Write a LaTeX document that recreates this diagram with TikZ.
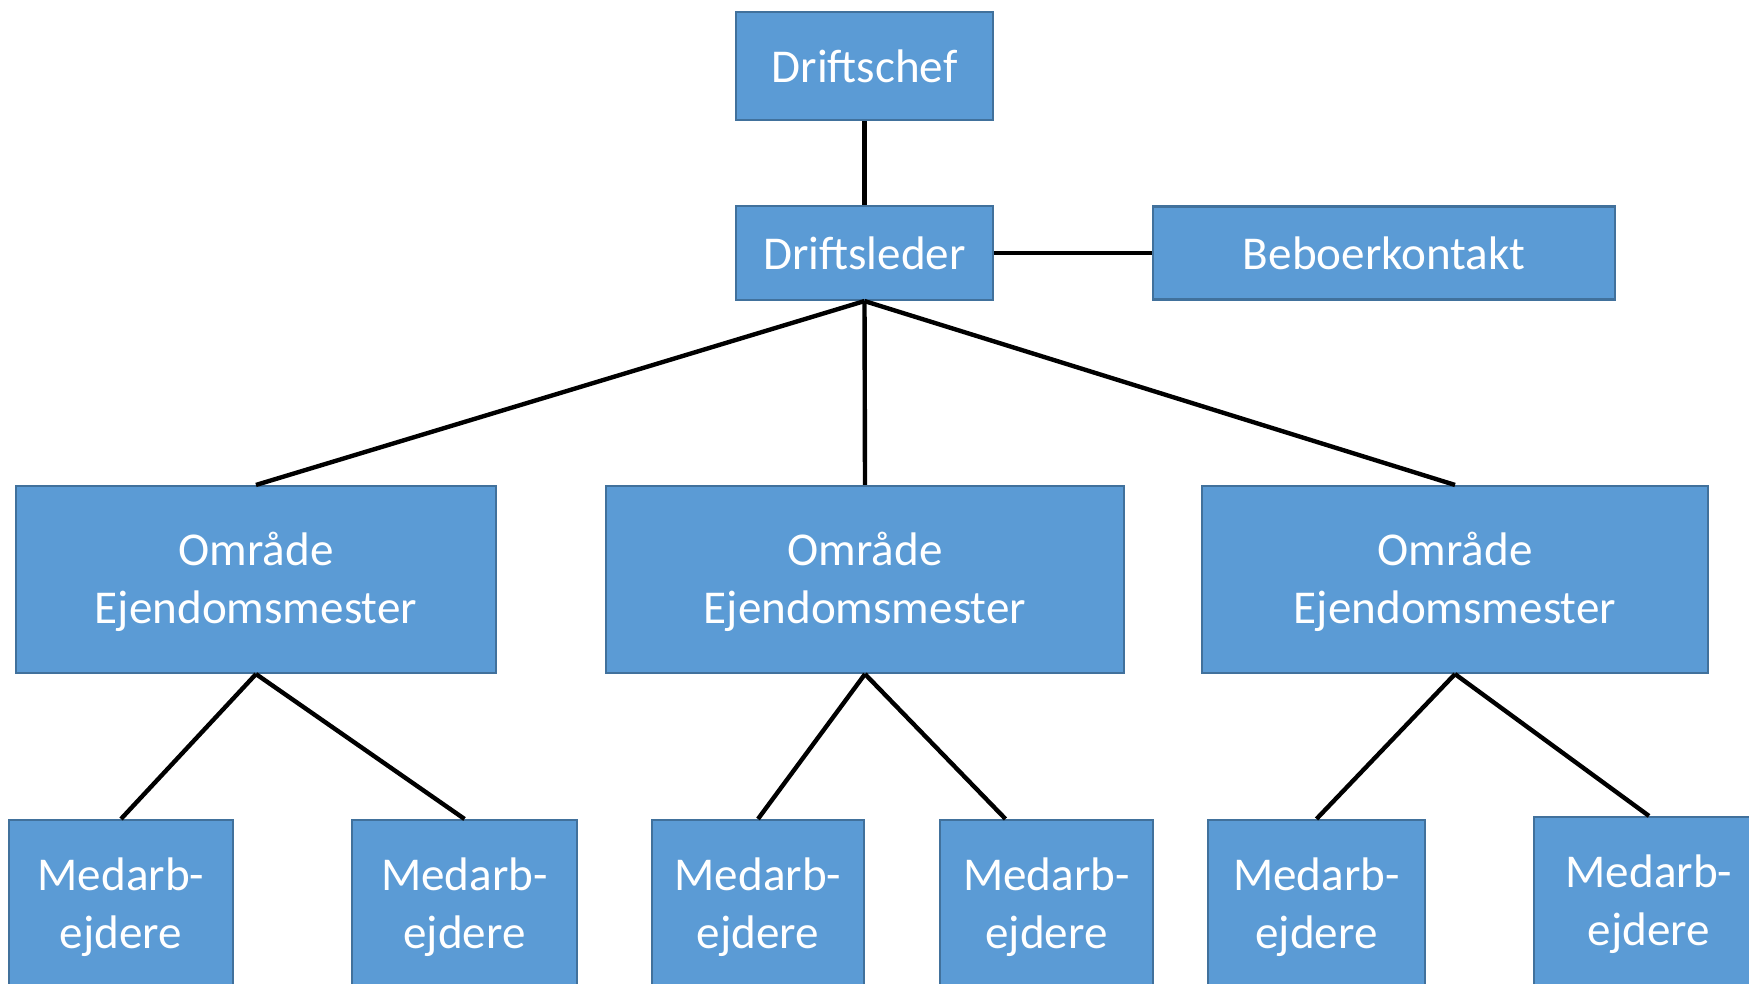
\documentclass[tikz,border=0pt]{standalone}
\usepackage{fontspec}
\setmainfont{Carlito}
\definecolor{boxfill}{RGB}{91,155,213}
\definecolor{boxline}{RGB}{65,113,156}
\usetikzlibrary{positioning}

\begin{document}
\begin{tikzpicture}[
    every node/.style={font=\fontsize{13.4}{16.4}\selectfont, text=white, align=center},
    unit/.style={draw=boxline, line width=0.6pt, fill=boxfill, inner sep=0pt},
    link/.style={black, line width=1.25pt}]
  \useasboundingbox (0,0) rectangle (17.49,9.83);
  % top of the tree
  \node[unit, minimum width=2.57cm, minimum height=1.08cm] (chef) at (8.645,9.17) {Driftschef};
  \node[unit, minimum width=2.57cm, minimum height=0.94cm] (leder) at (8.645,7.30) {Driftsleder};
  \node[unit, minimum width=4.62cm, minimum height=0.93cm] (beboer) at (13.84,7.30) {Beboerkontakt};
  % area caretakers
  \node[unit, minimum width=4.80cm, minimum height=1.87cm] (omr1) at (2.56,4.035) {\rule{0pt}{11pt}Område\\Ejendomsmester};
  \node[unit, minimum width=5.18cm, minimum height=1.87cm] (omr2) at (8.65,4.035) {\rule{0pt}{11pt}Område\\Ejendomsmester};
  \node[unit, minimum width=5.06cm, minimum height=1.87cm] (omr3) at (14.55,4.035) {\rule{0pt}{11pt}Område\\Ejendomsmester};
  % staff
  \node[unit, minimum width=2.24cm, minimum height=1.68cm] (med1) at (1.21,0.79) {\rule{0pt}{11pt}Medarb-\\ejdere};
  \node[unit, minimum width=2.25cm, minimum height=1.68cm] (med2) at (4.645,0.79) {\rule{0pt}{11pt}Medarb-\\ejdere};
  \node[unit, minimum width=2.12cm, minimum height=1.68cm] (med3) at (7.58,0.79) {\rule{0pt}{11pt}Medarb-\\ejdere};
  \node[unit, minimum width=2.13cm, minimum height=1.68cm] (med4) at (10.465,0.79) {\rule{0pt}{11pt}Medarb-\\ejdere};
  \node[unit, minimum width=2.17cm, minimum height=1.68cm] (med5) at (13.165,0.79) {\rule{0pt}{11pt}Medarb-\\ejdere};
  \node[unit, minimum width=2.30cm, minimum height=1.68cm] (med6) at (16.49,0.82) {\rule{0pt}{11pt}Medarb-\\ejdere};
  % connectors
  \draw[link] (chef.south) -- (leder.north);
  \draw[link] (leder.east) -- (beboer.west);
  \foreach \o in {omr1,omr2,omr3}
    \draw[link] (leder.south) -- (\o.north);
  \draw[link] (omr1.south) -- (med1.north);
  \draw[link] (omr1.south) -- (med2.north);
  \draw[link] (omr2.south) -- (med3.north);
  \draw[link] (omr2.south) -- ([xshift=-0.41cm]med4.north);
  \draw[link] (omr3.south) -- (med5.north);
  \draw[link] (omr3.south) -- (med6.north);
\end{tikzpicture}
\end{document}
